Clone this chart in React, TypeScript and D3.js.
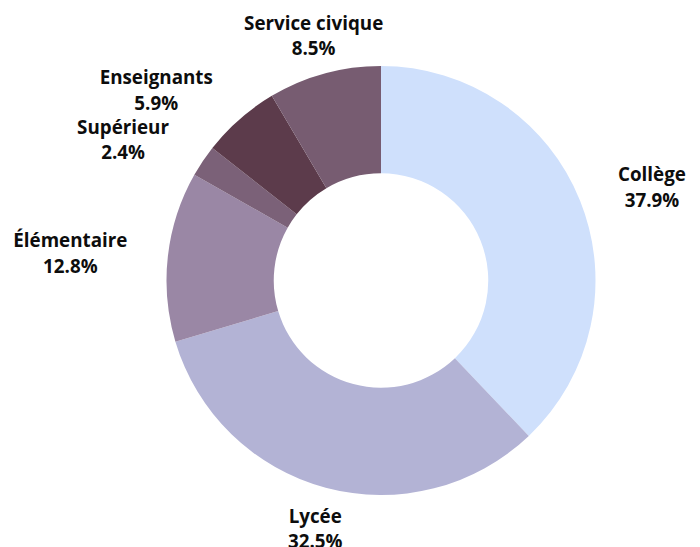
import React from "react";
import * as d3 from "d3";

const categories = ["Collège", "Lycée", "Élémentaire", "Supérieur", "Enseignants", "Service civique"];
const values = [37.9, 32.5, 12.8, 2.4, 5.9, 8.5];
const colors = ["#cfe0fc", "#b3b3d5", "#9a87a5", "#7b6178", "#5c3b4b", "#775c71"];

const W = 700;
const H = 547;
const FONT_SIZE = 18.8;
const FONT = `bold ${FONT_SIZE}px 'Open Sans'`;

function measure(text: string): number {
  if (typeof document === "undefined") return text.length * 9;
  const cvs = document.createElement("canvas");
  const ctx = cvs.getContext("2d");
  if (!ctx) return text.length * 9;
  ctx.font = FONT;
  return ctx.measureText(text).width;
}

export default function App() {
  const cx = 381;
  const cy = 280.5;
  const outer = 214.5;
  const inner = outer * 0.5;
  const labelR = outer * 1.19;
  const lineGap = 25.5;

  const data = categories.map((c, i) => ({ name: c, value: values[i], color: colors[i] }));
  const pie = d3.pie<any>().value((d: any) => d.value).sort(null);
  const arcs = pie(data);
  const arcGen = d3.arc<any>().innerRadius(inner).outerRadius(outer);

  return (
    <div style={{ position: "absolute", left: 0, top: 0 }}>
      <svg width={W} height={H} style={{ display: "block" }}>
        <g transform={`translate(${cx},${cy})`}>
          {arcs.map((a, i) => (
            <path key={i} d={arcGen(a) as string} fill={a.data.color} />
          ))}
          {arcs.map((a, i) => {
            const mid = (a.startAngle + a.endAngle) / 2;
            const s = Math.sin(mid);
            const c = Math.cos(mid);
            const ax = labelR * s;
            const ay = -labelR * c;
            const pct = a.data.value.toFixed(1) + "%";
            const w = Math.max(measure(a.data.name), measure(pct));
            const side = Math.abs(s) < 0.5 ? 0 : s > 0 ? 1 : -1;
            const x = ax + side * w / 2;
            const base1 = ay - lineGap / 2 + FONT_SIZE * 0.36 + 1.5;
            return (
              <text
                key={"l" + i}
                textAnchor="middle"
                fontFamily="'Open Sans', sans-serif"
                fontWeight="bold"
                fontSize={FONT_SIZE}
                fill="#0d0d0d"
              >
                <tspan x={x} y={base1}>{a.data.name}</tspan>
                <tspan x={x} y={base1 + lineGap}>{pct}</tspan>
              </text>
            );
          })}
        </g>
      </svg>
    </div>
  );
}
